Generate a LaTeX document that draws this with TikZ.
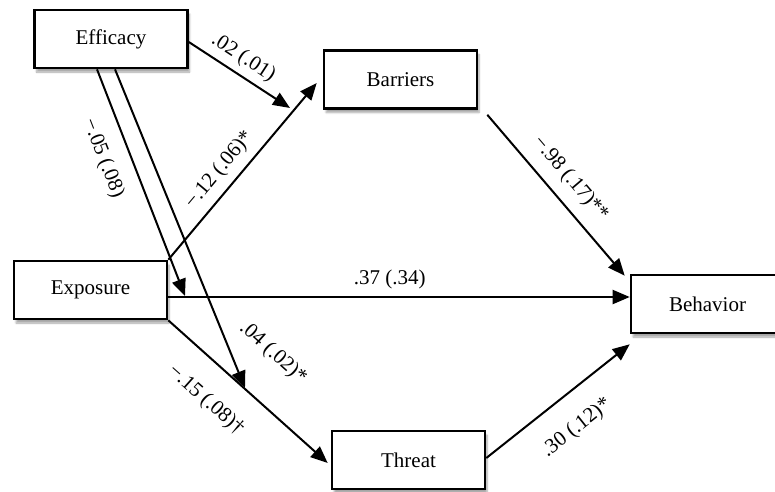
\documentclass[tikz,border=0pt]{standalone}
\usepackage{fontspec}
\setmainfont{Liberation Serif}
\usetikzlibrary{arrows.meta,shadows.blur}
\tikzset{
  varbox/.style={draw, line width=2.6pt, fill=white, minimum width=153pt,
    minimum height=58pt, inner sep=0pt,
    blur shadow={shadow xshift=2pt, shadow yshift=-4pt, shadow blur steps=6, shadow opacity=35}},
  effect/.style={line width=2pt, -{Triangle[length=17pt,width=14pt]}},
  coef/.style={sloped, inner sep=2pt}
}
\begin{document}
\begin{tikzpicture}[x=1pt,y=-1pt, font=\fontsize{21}{25}\selectfont]
\useasboundingbox (0,0) rectangle (775,491);
% Variables
\node[varbox] (effi) at (111,39) {Efficacy};
\node[varbox] (barr) at (400.5,79.5) {Barriers};
\node[varbox] (expo) at (90.5,290) {Exposure};
\node[varbox] (thre) at (408.5,460) {Threat};
\node[varbox] (beha) at (707.5,304) {Behavior};

% Free ends
\coordinate (ebtip) at (290,108);
\coordinate (modA) at (185,296);
\coordinate (modB) at (245,388);

% Paths
\draw[effect] ([yshift=-3pt]effi.east) -- (ebtip)
  node[coef, pos=0.45, above=4pt] {.02 (.01)};
\draw[effect] (expo.north east) -- ([xshift=-6pt,yshift=-3.5pt]barr.west)
  node[coef, pos=0.44, above=6pt] {−.12 (.06)*};
\draw[effect] ([xshift=-14pt]effi.south) -- (modA)
  node[coef, pos=0.35, below=14pt] {−.05 (.08)};
\draw[effect] ([xshift=4pt]effi.south) -- (modB);
\draw[effect] ([yshift=-7pt]expo.east) -- ([yshift=-7pt]expo.east -| beha.west)
  node[coef, pos=0.48, above=5pt] {.37 (.34)};
\draw[effect] (expo.south east) -- ([xshift=-3pt,yshift=-3pt]thre.west)
  node[coef, pos=0.38, below=22pt] {−.15 (.08)†};
\draw[effect] ([xshift=9pt,yshift=-5pt]barr.south east) -- ([xshift=-5pt,yshift=-2pt]beha.north west)
  node[coef, pos=0.485, above=9pt] {−.98 (.17)**};
\draw[effect] ([yshift=2pt]thre.east) -- ([yshift=-10pt]beha.south west)
  node[coef, pos=0.49, below=20pt] {.30 (.12)*};

% Interaction label
\node[rotate=-41.8] (intb) at (273,353) {.04 (.02)*};
\end{tikzpicture}
\end{document}
